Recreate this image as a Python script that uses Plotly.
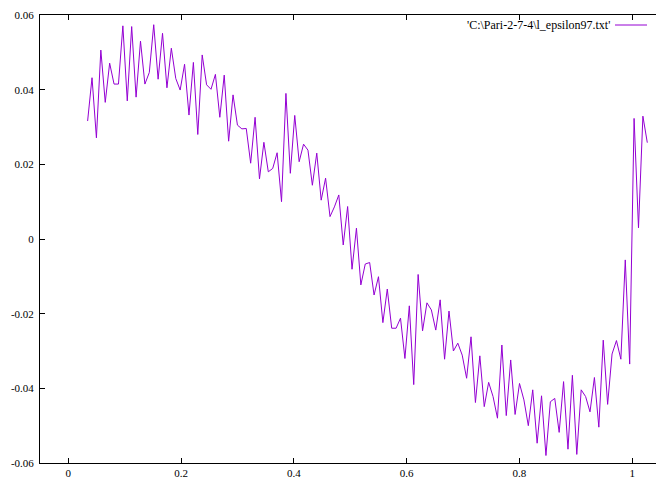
import plotly.graph_objects as go

# Data (x is a uniform sample grid)
x_start = 0.0344
x_step = 1 / 128
y_values = [
    0.0316, 0.0432, 0.0271, 0.0506, 0.0366, 0.0471, 0.0415, 0.0415, 0.0571, 0.0370,
    0.0569, 0.0380, 0.0530, 0.0415, 0.0446, 0.0574, 0.0428, 0.0551, 0.0405, 0.0511,
    0.0430, 0.0399, 0.0468, 0.0332, 0.0473, 0.0280, 0.0493, 0.0413, 0.0401, 0.0441,
    0.0326, 0.0439, 0.0262, 0.0386, 0.0305, 0.0295, 0.0296, 0.0203, 0.0326, 0.0161,
    0.0259, 0.0180, 0.0189, 0.0231, 0.0100, 0.0390, 0.0176, 0.0331, 0.0207, 0.0254,
    0.0238, 0.0144, 0.0230, 0.0104, 0.0163, 0.0060, 0.0086, 0.0118, -0.0016, 0.0087,
    -0.0081, 0.0029, -0.0123, -0.0067, -0.0063, -0.0150, -0.0101, -0.0224, -0.0134, -0.0239,
    -0.0239, -0.0212, -0.0320, -0.0179, -0.0390, -0.0095, -0.0246, -0.0171, -0.0190, -0.0244,
    -0.0163, -0.0322, -0.0193, -0.0300, -0.0279, -0.0311, -0.0373, -0.0262, -0.0438, -0.0313,
    -0.0449, -0.0384, -0.0422, -0.0480, -0.0284, -0.0473, -0.0324, -0.0470, -0.0387, -0.0431,
    -0.0500, -0.0404, -0.0547, -0.0420, -0.0580, -0.0436, -0.0427, -0.0518, -0.0382, -0.0563,
    -0.0365, -0.0577, -0.0404, -0.0422, -0.0463, -0.0371, -0.0504, -0.0271, -0.0443, -0.0308,
    -0.0272, -0.0322, -0.0056, -0.0335, 0.0323, 0.0030, 0.0329, 0.0258,
]
x_values = [x_start + i * x_step for i in range(len(y_values))]

x_tickvals = [0, 0.2, 0.4, 0.6, 0.8, 1]
x_ticktext = ["0", "0.2", "0.4", "0.6", "0.8", "1"]
y_tickvals = [-0.06, -0.04, -0.02, 0, 0.02, 0.04, 0.06]
y_ticktext = ["-0.06", "-0.04", "-0.02", "0", "0.02", "0.04", "0.06"]
legend_label = "'C:\\Pari-2-7-4\\l_epsilon97.txt'"

line_color = "#9400D3"
font = dict(family="Liberation Serif, Times New Roman, serif", size=11, color="black")
legend_font = dict(family="Liberation Serif, Times New Roman, serif", size=12, color="black")

fig = go.Figure()
fig.add_trace(go.Scatter(x=x_values, y=y_values, mode="lines",
                         line=dict(color=line_color, width=1), showlegend=False,
                         hoverinfo="skip"))

fig.update_layout(
    width=656, height=479,
    margin=dict(l=40, r=0, t=15, b=16, autoexpand=False),
    paper_bgcolor="white", plot_bgcolor="white",
    font=font,
    showlegend=False,
    xaxis=dict(range=[-0.05, 1.042], tickvals=x_tickvals, ticktext=x_ticktext,
               ticks="inside", ticklen=5, tickcolor="black", tickwidth=1,
               showline=True, linecolor="black", linewidth=1, mirror="ticks",
               showgrid=False, zeroline=False, tickfont=font, automargin=False,
               ticklabelstandoff=0),
    yaxis=dict(range=[-0.06, 0.06], tickvals=y_tickvals, ticktext=y_ticktext,
               ticks="inside", ticklen=5, tickcolor="black", tickwidth=1,
               showline=True, linecolor="black", linewidth=1, mirror=False,
               showgrid=False, zeroline=False, tickfont=font, ticklabelstandoff=3,
               automargin=False),
    yaxis2=dict(range=[-0.06, 0.06], tickvals=y_tickvals, overlaying="y", side="right",
                ticks="inside", ticklen=2, tickcolor="black", tickwidth=1,
                showline=False, showgrid=False, zeroline=False, showticklabels=False,
                automargin=False),
)

fig.add_annotation(xref="paper", yref="paper", x=(612 - 40) / 616, y=(463 - 25) / 448,
                   xanchor="right", yanchor="middle", text=legend_label, showarrow=False,
                   font=legend_font)
fig.add_shape(type="line", xref="paper", yref="paper",
              x0=(615 - 40) / 616, x1=(647 - 40) / 616,
              y0=(463 - 25) / 448, y1=(463 - 25) / 448,
              line=dict(color=line_color, width=1))

fig.write_html("out.html", config={"displayModeBar": False},
               post_script="document.body.style.margin='0';document.body.style.overflow='hidden';")
